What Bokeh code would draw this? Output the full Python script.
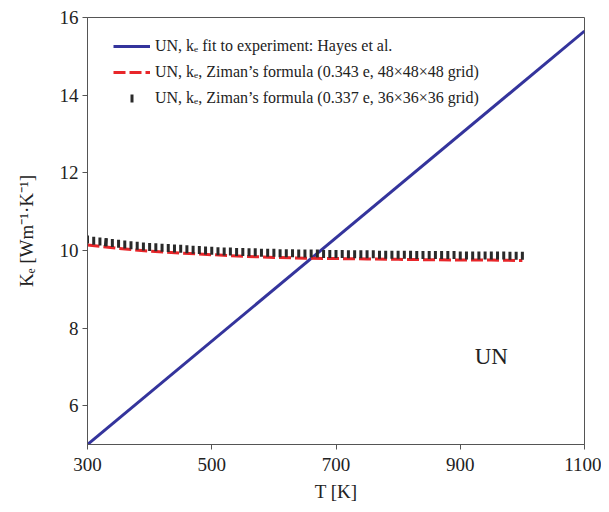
from bokeh.plotting import figure
from bokeh.models import Legend, LegendItem, FixedTicker, Label
from bokeh.embed import file_html
from bokeh.resources import INLINE
import math

# ---- data ----
T_fit = [300, 1100]
K_fit = [5.0, 15.65]

T_red = [300, 350, 400, 450, 500, 550, 600, 650, 700, 750, 800, 850, 900, 950, 1000]
K_red = [10.14, 10.05, 9.98, 9.93, 9.89, 9.85, 9.82, 9.80, 9.79, 9.78, 9.77, 9.76, 9.75, 9.75, 9.74]

T_blk = [300, 310, 320, 330, 340, 350, 360, 370, 380, 390,
         400, 410, 420, 430, 440, 450, 460, 470, 480, 490,
         500, 510, 520, 530, 540, 550, 560, 570, 580, 590,
         600, 610, 620, 630, 640, 650, 660, 670, 680, 690,
         700, 710, 720, 730, 740, 750, 760, 770, 780, 790,
         800, 810, 820, 830, 840, 850, 860, 870, 880, 890,
         900, 910, 920, 930, 940, 950, 960, 970, 980, 990, 1000]
K_blk = [10.28, 10.25, 10.23, 10.21, 10.19, 10.17, 10.15, 10.13, 10.12, 10.10,
         10.09, 10.08, 10.07, 10.06, 10.05, 10.04, 10.03, 10.02, 10.01, 10.00,
         9.99, 9.98, 9.97, 9.97, 9.96, 9.96, 9.95, 9.95, 9.94, 9.94,
         9.94, 9.93, 9.93, 9.93, 9.92, 9.92, 9.92, 9.92, 9.91, 9.91,
         9.91, 9.91, 9.90, 9.90, 9.90, 9.90, 9.90, 9.89, 9.89, 9.89,
         9.89, 9.89, 9.89, 9.88, 9.88, 9.88, 9.88, 9.88, 9.88, 9.88,
         9.87, 9.87, 9.87, 9.87, 9.87, 9.87, 9.87, 9.87, 9.86, 9.86, 9.86]

x_ticks = [300, 500, 700, 900, 1100]
y_ticks = [6, 8, 10, 12, 14, 16]

labels = [
    "UN, k\u2091 fit to experiment: Hayes et al.",
    "UN, k\u2091, Ziman\u2019s formula (0.343 e, 48\u00d748\u00d748 grid)",
    "UN, k\u2091, Ziman\u2019s formula (0.337 e, 36\u00d736\u00d736 grid)",
]
annot_text = "UN"
annot_T, annot_K = 950, 7.26

FONT = "Liberation Serif"
TXT = "#222222"
AX = "#555555"
BLACK = "#2a2a2a"

p = figure(width=601, height=504, x_range=(300, 1100), y_range=(5, 16),
           output_backend="svg", toolbar_location=None,
           min_border_left=87, min_border_right=17,
           min_border_top=17, min_border_bottom=59)

r_blue = p.line(T_fit, K_fit, line_color="#34349c", line_width=3)
r_red = p.line(T_red, K_red, line_color="#e8262a", line_width=3, line_dash="12 4")
r_blk = p.scatter(T_blk, K_blk, marker="dash", angle=math.pi / 2, size=8,
                  line_color=BLACK, line_width=3)
# legend key for the black series: one short vertical bar (a single dash of a
# thick line); in the plot that dash falls on top of one of the markers
r_blk_key = p.line(T_blk, K_blk, line_color=BLACK, line_width=8,
                   line_dash="3 5000", line_dash_offset=4986)

p.xgrid.visible = False
p.ygrid.visible = False
p.outline_line_color = AX
p.outline_line_width = 1

for ax in (p.xaxis[0], p.yaxis[0]):
    ax.axis_line_color = AX
    ax.major_tick_line_color = AX
    ax.major_tick_out = 5
    ax.major_tick_in = 0
    ax.minor_tick_line_color = None
    ax.major_label_text_font = FONT
    ax.major_label_text_font_size = "19px"
    ax.major_label_text_color = TXT
    ax.axis_label_text_font = FONT
    ax.axis_label_text_font_size = "19px"
    ax.axis_label_text_font_style = "normal"
    ax.axis_label_text_color = TXT

p.xaxis.ticker = FixedTicker(ticks=x_ticks)
p.yaxis.ticker = FixedTicker(ticks=y_ticks)
p.xaxis.axis_label = "T [K]"
p.yaxis.axis_label = "K\u2091 [Wm\u207b\u00b9\u00b7K\u207b\u00b9]"
p.xaxis.major_label_standoff = 8
p.yaxis.major_label_standoff = 4
p.xaxis.axis_label_standoff = 7
p.yaxis.axis_label_standoff = 20

legend = Legend(items=[LegendItem(label=labels[0], renderers=[r_blue]),
                       LegendItem(label=labels[1], renderers=[r_red]),
                       LegendItem(label=labels[2], renderers=[r_blk_key])],
                location=(26, 336))
legend.border_line_color = None
legend.background_fill_alpha = 0
legend.label_text_font = FONT
legend.label_text_font_size = "16px"
legend.label_text_color = TXT
legend.glyph_width = 37
legend.glyph_height = 20
legend.label_height = 20
legend.spacing = 6
legend.padding = 10
legend.margin = 0
legend.label_standoff = 5
p.add_layout(legend)

p.add_layout(Label(x=annot_T, y=annot_K, text=annot_text, text_font=FONT,
                   text_font_size="23px", text_color=TXT,
                   text_align="center", text_baseline="middle"))

open("out.html", "w").write(file_html(p, INLINE))
